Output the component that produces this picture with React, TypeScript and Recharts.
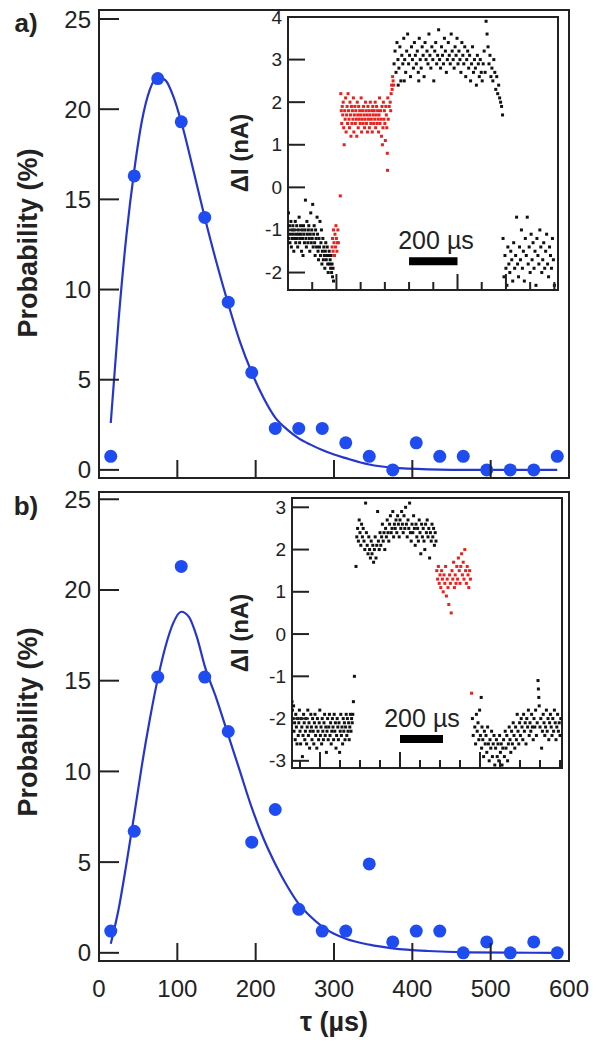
import React from "react";
import { ComposedChart, ScatterChart, Scatter, Line, XAxis, YAxis, ReferenceArea } from "recharts";

const FONT = "'Liberation Sans', Arial, sans-serif";
const INK = "#222";
const DOT = "#1f4cf0";
const FIT = "#2536cf";
const RED = "#e8211d";

// histogram bins, tau in µs
const tauBins = [15, 45, 75, 105, 135, 165, 195, 225, 255, 285, 315, 345, 375, 405, 435, 465, 495, 525, 555, 585];
const probA = [0.75, 16.3, 21.7, 19.3, 14.0, 9.3, 5.4, 2.3, 2.3, 2.3, 1.5, 0.75, 0, 1.5, 0.75, 0.75, 0, 0, 0, 0.75];
const probB = [1.2, 6.7, 15.2, 21.3, 15.2, 12.2, 6.1, 7.9, 2.4, 1.2, 1.2, 4.9, 0.6, 1.2, 1.2, 0, 0.6, 0, 0.6, 0];

// fitted curves
const fitTauA = [15, 25, 35, 45, 55, 65, 75, 85, 95, 105, 120, 135, 150, 165, 180, 195, 210, 225, 240, 255, 270, 285, 300, 315, 345, 375, 420, 480, 585];
const fitA = [2.6, 8.3, 13.0, 16.6, 19.4, 21.1, 21.8, 21.6, 20.7, 19.3, 16.7, 14.0, 11.5, 9.2, 7.1, 5.4, 4.0, 2.9, 2.25, 1.75, 1.4, 1.1, 0.85, 0.65, 0.3, 0.12, 0.03, 0, 0];
const fitTauB = [15, 25, 35, 45, 55, 65, 75, 85, 95, 105, 115, 125, 135, 150, 165, 180, 195, 210, 225, 240, 255, 270, 285, 300, 315, 345, 375, 420, 470, 585];
const fitB = [0.5, 2.4, 4.9, 7.6, 10.4, 12.9, 15.1, 16.9, 18.2, 18.8, 18.5, 17.4, 15.8, 14.0, 12.0, 10.0, 8.0, 6.3, 4.9, 3.7, 2.7, 2.0, 1.45, 1.05, 0.78, 0.45, 0.25, 0.1, 0.03, 0];

const probTicks = [0, 5, 10, 15, 20, 25];
const tauTicks = [0, 100, 200, 300, 400, 500, 600];

// inset traces: [time µs, ΔI nA]
const traceABlack: [number, number][] = [
  [0,-1.0],[2,-0.6],[4,-1.2],[6,-0.9],[8,-1.3],[10,-1.1],[12,-0.8],[14,-1.4],[16,-1.0],[18,-1.2],[20,-0.9],[22,-1.1],[24,-1.5],[26,-1.0],[28,-1.2],[30,-0.8],
  [32,-1.3],[34,-1.1],[36,-0.9],[38,-1.2],[40,-1.4],[42,-1.0],[44,-1.1],[46,-0.7],[48,-1.3],[50,-1.2],[52,-0.9],[54,-1.1],[56,-1.5],[58,-1.0],[60,-1.2],
  [62,-1.6],[64,-0.9],[66,-1.1],[68,-1.3],[70,-1.0],[72,-0.3],[74,-1.2],[76,-1.4],[78,-0.8],[80,-1.1],[82,-1.3],[84,-1.0],[86,-0.9],[88,-1.2],[90,-1.5],
  [92,-1.1],[94,-0.6],[96,-1.3],[98,-1.0],[100,-1.2],[102,-0.4],[104,-1.4],[106,-1.1],[108,-0.9],[110,-1.3],[112,-1.6],[114,-1.0],[116,-1.2],[118,-1.4],
  [120,-0.7],[122,-1.1],[124,-1.5],[126,-1.7],[128,-1.2],[130,-1.4],[132,-0.8],[134,-1.6],[136,-1.3],[138,-1.0],[140,-1.8],[142,-1.5],[144,-1.2],[146,-1.7],
  [148,-1.4],[150,-1.6],[152,-1.9],[154,-1.5],[156,-1.3],[158,-1.7],[160,-1.6],[162,-1.4],[164,-1.8],[166,-2.0],[168,-1.6],[170,-1.5],[172,-1.8],[174,-1.7],
  [176,-1.9],[178,-1.6],[180,-2.0],[182,-1.8],[184,-2.1],[186,-1.9],[188,-2.2],
  [438,2.9],[442,3.2],[446,2.7],[450,3.4],[454,3.0],[455,2.4],[458,2.8],[462,3.3],[466,2.5],[470,3.1],[474,2.9],[478,3.5],[480,2.5],[482,3.0],[486,2.7],
  [490,3.2],[494,3.6],[498,2.9],[502,3.1],[506,2.6],[510,3.3],[514,3.0],[518,2.8],[522,3.4],[526,3.1],[530,2.9],[534,3.2],[538,2.7],[540,2.5],[542,3.5],
  [546,3.0],[550,2.8],[554,3.3],[558,3.1],[562,2.6],[566,3.4],[570,3.0],[574,3.2],[578,2.9],[582,3.6],[586,3.1],[590,2.8],[594,3.3],[598,3.0],[602,2.5],
  [606,3.2],[610,3.4],[614,2.9],[618,3.1],[622,3.7],[626,3.0],[630,2.8],[634,3.3],[638,3.1],[642,2.9],[646,3.5],[650,3.2],[654,2.7],[658,3.0],[662,3.4],
  [666,3.1],[670,2.9],[674,3.6],[678,3.2],[682,3.0],[686,2.8],[690,3.3],[694,3.1],[698,3.5],[702,2.9],[706,3.2],[710,3.0],[714,2.7],[718,3.4],[722,3.1],
  [726,2.9],[730,3.3],[734,2.6],[738,3.0],[742,3.2],[746,2.8],[750,3.1],[754,2.5],[758,2.9],[762,3.3],[766,2.7],[770,3.0],[774,2.8],[778,2.4],[782,3.1],
  [786,2.9],[790,2.6],[794,3.0],[798,2.7],[802,2.5],[806,2.9],[810,3.2],[814,2.7],[818,3.9],[822,3.6],[826,3.3],[830,2.9],[834,3.1],[838,2.6],[842,2.8],
  [846,2.5],[850,3.0],[854,2.7],[858,2.3],[862,2.6],[866,2.2],[870,2.4],[874,2.1],[878,2.0],[882,1.9],[886,1.7],
  [888,-1.2],[892,-2.1],[896,-1.6],[900,-1.9],[904,-2.3],[908,-1.4],[912,-1.8],[916,-2.0],[920,-1.5],[924,-1.7],[928,-2.2],[932,-1.3],[936,-1.9],[940,-1.6],
  [944,-0.7],[948,-1.8],[952,-2.1],[956,-1.4],[960,-1.7],[964,-1.0],[968,-1.9],[972,-1.5],[976,-2.2],[980,-1.2],[984,-1.6],[988,-0.7],[992,-1.8],[996,-1.4],
  [1000,-2.0],[1004,-1.1],[1008,-1.7],[1012,-1.3],[1016,-1.9],[1020,-1.5],[1024,-2.3],[1028,-1.2],[1032,-1.6],[1036,-1.8],[1040,-1.0],[1044,-1.4],[1048,-2.0],
  [1052,-1.7],[1056,-1.3],[1060,-1.9],[1064,-1.5],[1068,-1.1],[1072,-1.8],[1076,-2.1],[1080,-1.4],[1084,-1.6],[1088,-1.9],[1092,-1.2],[1096,-1.7],[1100,-2.3],
];
const traceARed: [number, number][] = [
  [182,-1.4],[184,-1.2],[186,-1.5],[188,-1.0],[190,-1.3],[192,-1.6],[194,-1.1],[196,-1.4],[198,-0.9],[200,-1.2],[202,-1.5],[204,-1.3],[206,-1.0],[208,-1.3],[216,-0.2],
  [218,2.2],[220,1.8],[222,1.5],[224,1.9],[226,1.7],[228,2.0],[230,1.4],[232,1.0],[234,1.8],[236,1.6],[238,2.1],[240,1.3],[242,1.7],[244,1.9],[246,1.5],
  [248,2.2],[250,1.8],[252,1.6],[254,1.4],[256,2.0],[258,1.7],[260,1.2],[262,1.9],[264,1.5],[266,1.8],[268,1.6],[270,2.1],[272,1.3],[274,1.7],[276,1.9],
  [278,1.5],[280,1.8],[282,1.6],[284,1.2],[286,2.0],[288,1.7],[290,1.4],[292,1.9],[294,1.6],[296,1.8],[298,1.5],[300,1.7],[302,2.1],[304,1.3],[306,1.6],
  [308,1.8],[310,1.5],[312,1.9],[314,1.7],[316,1.4],[318,1.6],[320,2.0],[322,1.8],[324,1.5],[326,1.7],[328,1.3],[330,1.9],[332,1.6],[334,1.8],[336,1.4],
  [338,1.7],[340,2.0],[342,1.5],[344,1.6],[346,1.8],[348,1.3],[350,1.9],[352,1.7],[354,1.5],[356,1.8],[358,1.6],[360,2.0],[362,1.4],[364,1.7],[366,1.9],
  [368,1.5],[370,1.8],[372,1.6],[374,1.3],[376,1.7],[378,2.1],[380,1.5],[382,1.8],[384,1.6],[386,1.2],[388,1.9],[390,1.0],[392,1.4],[394,2.0],[396,1.6],
  [398,1.8],[400,1.5],[402,1.1],[404,1.9],[406,1.7],[408,1.4],[410,0.8],[411,0.4],[412,2.1],[414,1.6],[418,1.9],[422,2.0],[424,1.8],[426,2.2],[428,2.4],
  [430,2.3],[432,2.6],[434,2.5],[436,2.4],
];

const traceBBlack: [number, number][] = [
  [-40,-1.6],[-38,-1.8],[-35,-2.0],[-32,-1.7],[-30,-2.3],[-27,-2.1],[-24,-2.5],[-21,-1.9],[-18,-2.2],[-15,-2.6],[-12,-2.0],[-9,-2.4],[-6,-2.1],[-3,-1.8],
  [0,-2.3],[3,-2.6],[6,-2.0],[9,-2.2],[12,-2.9],[15,-2.4],[18,-1.9],[21,-2.1],[24,-2.5],[27,-2.3],[30,-2.0],[33,-2.6],[36,-2.2],[39,-1.8],[42,-2.4],
  [45,-2.1],[48,-2.7],[51,-2.3],[54,-1.9],[57,-2.2],[60,-2.5],[63,-2.0],[66,-2.3],[69,-2.6],[72,-2.1],[75,-1.9],[78,-2.4],[81,-2.2],[84,-2.7],[87,-2.0],
  [90,-2.3],[93,-2.5],[96,-2.1],[99,-1.8],[102,-2.4],[105,-2.2],[108,-2.6],[111,-2.0],[114,-2.3],[117,-2.5],[120,-2.1],[123,-1.9],[126,-2.4],[129,-2.2],
  [132,-2.8],[135,-2.3],[138,-2.0],[141,-2.5],[144,-2.2],[147,-1.9],[150,-2.4],[153,-2.1],[156,-2.6],[159,-2.3],[162,-2.0],[165,-2.2],[168,-2.5],[171,-1.9],
  [174,-2.3],[177,-2.1],[180,-2.7],[183,-2.4],[186,-2.0],[189,-2.2],[192,-2.5],[195,-2.1],[198,-2.8],[201,-2.3],[204,-1.9],[207,-2.4],[210,-2.2],[213,-2.6],
  [216,-2.0],[219,-2.3],[222,-2.1],[225,-2.5],[228,-2.2],[231,-1.9],[234,-2.4],[237,-2.0],[240,-2.3],[243,-2.1],[246,-2.5],[249,-2.2],[252,-1.9],[255,-2.3],
  [258,-2.0],[261,-2.1],[264,-1.9],[267,-1.6],[272,-1.0],[280,1.6],
  [284,2.3],[288,2.5],[292,2.2],[296,2.7],[300,2.4],[304,2.1],[308,2.6],[312,2.3],[316,2.5],[320,2.2],[324,2.0],[328,3.1],[332,2.4],[336,2.1],[340,1.9],
  [344,2.3],[348,2.0],[352,1.8],[356,2.2],[360,1.9],[364,2.1],[368,1.7],[372,2.0],[376,2.3],[380,1.8],[384,2.1],[388,2.9],[392,2.2],[396,2.0],[400,2.4],
  [404,2.1],[408,2.3],[412,2.6],[416,2.2],[420,2.4],[424,2.0],[428,2.5],[432,2.3],[436,2.7],[440,2.4],[444,2.2],[448,2.6],[452,2.8],[456,2.4],[460,2.5],
  [464,2.9],[468,2.3],[472,2.6],[476,2.5],[480,2.7],[484,2.4],[488,2.8],[492,2.6],[496,2.3],[500,2.7],[504,2.5],[508,2.9],[512,2.6],[516,2.4],[520,2.8],
  [524,2.5],[528,3.0],[532,2.6],[536,2.3],[540,2.7],[544,2.5],[548,3.1],[552,2.4],[556,2.2],[560,2.6],[564,2.4],[568,2.8],[572,2.5],[576,2.1],[580,2.6],
  [584,2.3],[588,2.5],[592,2.2],[596,2.7],[600,2.4],[604,1.9],[608,2.6],[612,2.3],[616,2.5],[620,2.2],[624,2.0],[628,2.6],[632,2.4],[636,2.7],[640,2.3],
  [644,2.5],[648,1.8],[652,2.4],[656,2.2],[660,2.6],[664,2.3],[668,2.5],[672,2.1],[676,2.4],[680,2.2],
  [862,-2.0],[866,-2.4],[874,-2.2],[878,-2.6],[882,-1.9],[886,-2.3],[890,-2.1],[894,-2.5],[898,-1.8],[902,-2.4],[906,-1.5],[908,-2.7],[910,-2.2],[914,-2.5],
  [918,-2.9],[922,-2.3],[926,-2.6],[930,-2.4],[934,-2.8],[938,-2.2],[942,-2.6],[946,-3.0],[950,-2.5],[954,-2.7],[958,-2.3],[962,-2.9],[966,-2.6],[970,-2.4],
  [974,-3.1],[978,-2.7],[982,-2.5],[986,-2.9],[990,-2.6],[994,-3.0],[998,-2.4],[1002,-2.8],[1006,-2.6],[1010,-3.1],[1014,-2.7],[1018,-2.5],[1022,-2.9],
  [1026,-2.3],[1030,-2.7],[1034,-2.4],[1038,-3.0],[1042,-2.6],[1046,-2.2],[1050,-2.5],[1054,-2.8],[1058,-2.3],[1062,-2.6],[1066,-2.1],[1070,-2.4],[1074,-2.7],
  [1078,-2.2],[1082,-2.5],[1086,-1.9],[1090,-2.3],[1094,-2.6],[1098,-2.1],[1102,-2.4],[1106,-2.0],[1110,-2.2],[1114,-2.5],[1118,-1.9],[1122,-2.3],[1126,-2.1],
  [1130,-2.6],[1134,-2.0],[1138,-2.2],[1142,-1.8],[1146,-2.4],[1150,-2.1],[1154,-2.3],[1158,-1.9],[1162,-2.2],[1166,-2.5],[1170,-2.0],[1174,-2.2],[1178,-1.8],
  [1182,-2.4],[1186,-2.1],[1190,-1.1],[1192,-1.3],[1194,-1.5],[1196,-1.7],[1200,-2.2],[1204,-2.0],[1208,-2.7],[1212,-2.3],[1216,-1.9],[1220,-2.1],[1224,-2.4],
  [1228,-2.2],[1232,-1.8],[1236,-2.3],[1240,-2.0],[1244,-2.5],[1248,-2.1],[1252,-1.9],[1256,-2.2],[1260,-2.4],[1264,-2.0],[1268,-2.3],[1272,-1.8],[1276,-2.1],
  [1280,-2.5],[1284,-2.2],[1288,-1.9],[1292,-2.3],[1296,-2.1],[1300,-2.4],[1304,-2.0],
];
const traceBRed: [number, number][] = [
  [684,1.5],[688,1.3],[692,1.6],[696,1.2],[700,1.4],[704,1.1],[708,1.5],[712,1.3],[716,1.0],[720,1.4],[724,1.2],[728,1.6],[732,0.9],[736,1.3],[740,1.1],
  [744,0.7],[748,1.4],[752,1.2],[756,0.5],[760,1.5],[764,1.3],[768,1.7],[772,1.1],[776,1.4],[780,1.2],[784,1.6],[788,1.3],[792,1.8],[796,1.5],[800,1.2],
  [804,1.6],[808,1.9],[812,1.4],[816,1.7],[820,1.3],[824,2.0],[828,1.5],[832,1.2],[836,1.6],[840,1.4],[844,1.1],[848,1.5],[852,1.3],[858,-1.4],
];

const insetATicksX = [0, 100, 200, 300, 400, 500, 600, 700, 800, 900, 1000, 1100];
const insetALong = [200, 700, 900];
const insetATicksY = [-2, -1, 0, 1, 2, 3, 4];
const insetBTicksX = [0, 100, 200, 300, 400, 500, 600, 700, 800, 900, 1000, 1100, 1200, 1300];
const insetBLong = [100, 500, 900];
const insetBTicksY = [-3, -2, -1, 0, 1, 2, 3];
// scale bars: [t start, t end, ΔI top, ΔI bottom]
const barA = [500, 700, -1.64, -1.83];
const barB = [500, 715, -2.39, -2.58];

const zip = (ts: number[], ps: number[]) => ts.map((t, i) => ({ t, p: ps[i] }));
const pts = (arr: [number, number][]) => arr.map(([t, v]) => ({ t, v }));

const Dot = (props: any) => <circle cx={props.cx} cy={props.cy} r={6.5} fill={DOT} />;
const Square = (props: any) => <rect x={props.cx - 1.5} y={props.cy - 1.5} width={3} height={3} fill={props.fill} />;

const MainYTick = ({ x, y, payload }: any) => (
  <g>
    <line x1={x} y1={y} x2={x + 20} y2={y} stroke={INK} strokeWidth={2} />
    <text x={x - 8} y={y} textAnchor="end" dominantBaseline="central" fontSize={24} fontFamily={FONT} fill={INK}>{payload.value}</text>
  </g>
);

const MainXTick = ({ x, y, payload, showLabel }: any) => (
  <g>
    <line x1={x} y1={y} x2={x} y2={y - 18} stroke={INK} strokeWidth={2} />
    {showLabel && (
      <text x={x} y={y + 27} textAnchor="middle" dominantBaseline="central" fontSize={24} fontFamily={FONT} fill={INK}>{payload.value}</text>
    )}
  </g>
);

const InsetYTick = ({ x, y, payload }: any) => (
  <g>
    <line x1={x} y1={y} x2={x + 17} y2={y} stroke={INK} strokeWidth={2} />
    <text x={x - 6} y={y} textAnchor="end" dominantBaseline="central" fontSize={19} fontFamily={FONT} fill={INK}>{payload.value}</text>
  </g>
);

const InsetXTick = ({ x, y, long }: any) => (
  <line x1={x} y1={y} x2={x} y2={y - (long ? 16 : 8)} stroke={INK} strokeWidth={2} />
);

function MainPanel({ top, height, plotTop, plotBottom, yMax, dots, fit, showTauLabels }: any) {
  return (
    <div style={{ position: "absolute", left: 0, top }}>
      <ComposedChart width={596} height={height} margin={{ top: plotTop - top, right: 27, bottom: 0, left: 0 }}>
        <XAxis type="number" dataKey="t" domain={[0, 600]} ticks={tauTicks} interval={0} height={top + height - plotBottom} axisLine={false} tickLine={false}
          tickSize={0} tickMargin={0} allowDataOverflow tick={(p: any) => <MainXTick {...p} showLabel={showTauLabels} />} />
        <YAxis type="number" dataKey="p" domain={[-0.45, yMax]} ticks={probTicks} interval={0} width={99} axisLine={false} tickLine={false}
          tickSize={0} tickMargin={0} allowDataOverflow tick={MainYTick} />
        <ReferenceArea x1={0} x2={600} y1={-0.45} y2={yMax} fill="none" stroke={INK} strokeWidth={2} />
        <Line data={fit} dataKey="p" type="monotone" stroke={FIT} strokeWidth={2.2} dot={false} isAnimationActive={false} />
        <Scatter data={dots} dataKey="p" shape={Dot} isAnimationActive={false} />
      </ComposedChart>
    </div>
  );
}

function Inset({ top, plotLeft, plotTop, plotRight, plotBottom, xDomain, yDomain, xTicks, longTicks, yTicks, black, red, bar }: any) {
  const left = 220;
  const W = 350;
  const H = 300;
  return (
    <>
      <div style={{ position: "absolute", left: plotLeft, top: plotTop, width: plotRight - plotLeft, height: plotBottom - plotTop, background: "#fff" }} />
      <div style={{ position: "absolute", left, top }}>
        <ScatterChart width={W} height={H} margin={{ top: plotTop - top, right: left + W - plotRight, bottom: 0, left: 0 }}>
          <XAxis type="number" dataKey="t" domain={xDomain} ticks={xTicks} interval={0} height={top + H - plotBottom} axisLine={false} tickLine={false}
            tickSize={0} tickMargin={0} allowDataOverflow tick={(p: any) => <InsetXTick {...p} long={longTicks.includes(p.payload.value)} />} />
          <YAxis type="number" dataKey="v" domain={yDomain} ticks={yTicks} interval={0} width={plotLeft - left} axisLine={false} tickLine={false}
            tickSize={0} tickMargin={0} allowDataOverflow tick={InsetYTick} />
          <ReferenceArea x1={xDomain[0]} x2={xDomain[1]} y1={yDomain[0]} y2={yDomain[1]} fill="none" stroke={INK} strokeWidth={2} />
          <ReferenceArea x1={bar[0]} x2={bar[1]} y1={bar[2]} y2={bar[3]} fill="#000" fillOpacity={1} stroke="none" />
          <Scatter data={pts(black)} fill="#111" shape={Square} isAnimationActive={false} />
          <Scatter data={pts(red)} fill={RED} shape={Square} isAnimationActive={false} />
        </ScatterChart>
      </div>
    </>
  );
}

const abs = (left: number, top: number, style: any = {}) => ({
  position: "absolute" as const, left, top, transform: "translate(-50%, -50%)", whiteSpace: "nowrap" as const,
  fontFamily: FONT, color: INK, lineHeight: 1, ...style,
});
const rot = (left: number, top: number, style: any = {}) => abs(left, top, { transform: "translate(-50%, -50%) rotate(-90deg)", ...style });

export default function App() {
  return (
    <div style={{ position: "absolute", left: 0, top: 0, width: 596, height: 1050, background: "#fff", overflow: "hidden" }}>
      <MainPanel top={0} height={490} plotTop={10} plotBottom={478} yMax={25.5} dots={zip(tauBins, probA)} fit={zip(fitTauA, fitA)} showTauLabels={false} />
      <MainPanel top={480} height={570} plotTop={492} plotBottom={961} yMax={25.4} dots={zip(tauBins, probB)} fit={zip(fitTauB, fitB)} showTauLabels />

      <Inset top={0} plotLeft={288} plotTop={17} plotRight={558} plotBottom={290} xDomain={[0, 1115]} yDomain={[-2.41, 4.0]}
        xTicks={insetATicksX} longTicks={insetALong} yTicks={insetATicksY} black={traceABlack} red={traceARed} bar={barA} />
      <Inset top={480} plotLeft={292} plotTop={498} plotRight={562} plotBottom={768} xDomain={[-40, 1310]} yDomain={[-3.17, 3.22]}
        xTicks={insetBTicksX} longTicks={insetBLong} yTicks={insetBTicksY} black={traceBBlack} red={traceBRed} bar={barB} />

      <div style={abs(26, 23, { fontSize: 26, fontWeight: "bold" })}>a)</div>
      <div style={abs(26, 506, { fontSize: 26, fontWeight: "bold" })}>b)</div>
      <div style={rot(28, 243, { fontSize: 27, fontWeight: "bold" })}>Probability (%)</div>
      <div style={rot(28, 722, { fontSize: 27, fontWeight: "bold" })}>Probability (%)</div>
      <div style={rot(240, 153, { fontSize: 24, fontWeight: "bold" })}>ΔI (nA)</div>
      <div style={rot(240, 633, { fontSize: 24, fontWeight: "bold" })}>ΔI (nA)</div>
      <div style={abs(436, 240, { fontSize: 25 })}>200 µs</div>
      <div style={abs(422, 718, { fontSize: 25 })}>200 µs</div>
      <div style={abs(334, 1022, { fontSize: 27, fontWeight: "bold" })}>τ (µs)</div>
    </div>
  );
}
